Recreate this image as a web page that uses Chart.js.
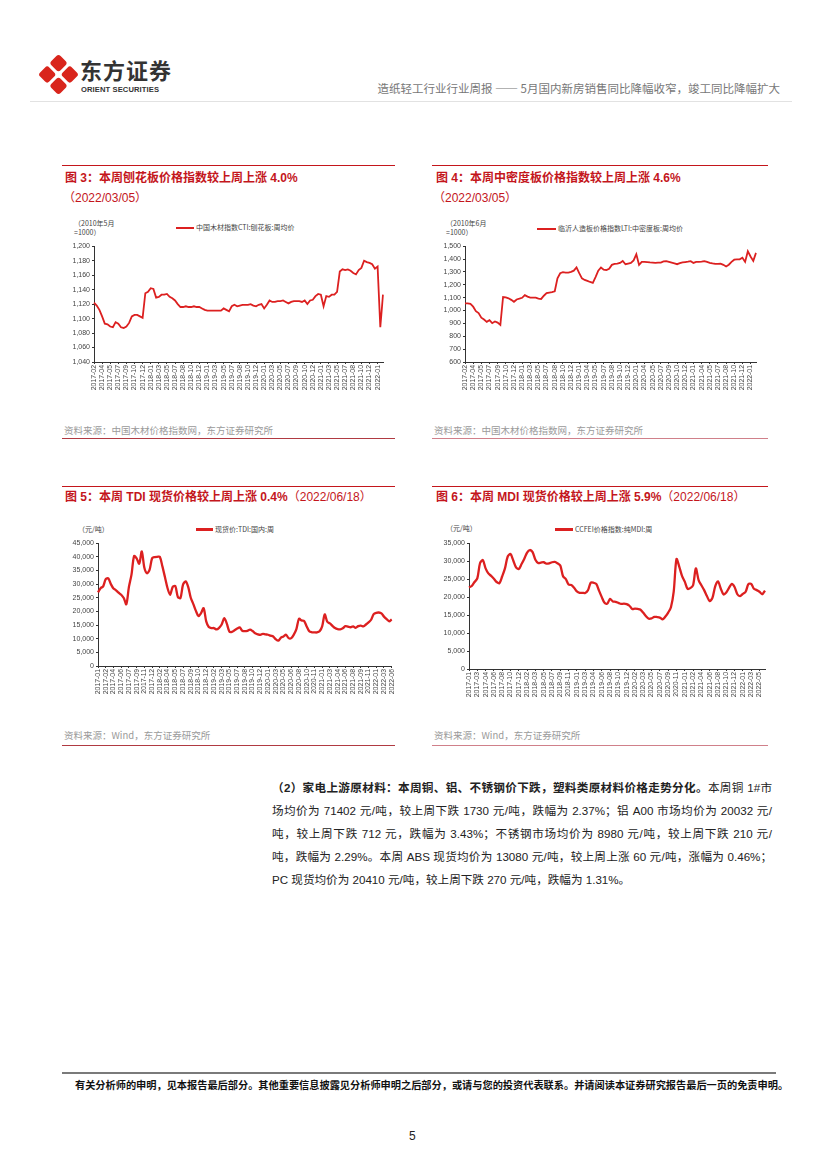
<!DOCTYPE html>
<html lang="zh-CN">
<head>
<meta charset="UTF-8">
<title>造纸轻工行业行业周报</title>
<script src="https://cdn.jsdelivr.net/npm/chart.js"></script>
<style>
  body { margin: 0; background: #fff; font-family: "Liberation Sans", Arial, "Noto Sans CJK SC", sans-serif; }
  .page { position: relative; width: 827px; height: 1169px; overflow: hidden; background: #fff; }
  .abs { position: absolute; white-space: nowrap; }
  .logo { position: absolute; left: 44px; top: 60px; width: 29px; height: 29px; transform: rotate(45deg); }
  .logo i { position: absolute; width: 13px; height: 13px; background: #d9251c; border-radius: 3px; }
  .brand { left: 80px; top: 57px; font-size: 22px; line-height: 24px; font-weight: bold; color: #333; letter-spacing: 1px; font-family: "Noto Sans CJK SC", sans-serif; }
  .brand-en { left: 81px; top: 85px; font-size: 7.6px; line-height: 9px; font-weight: bold; color: #333; letter-spacing: 0.1px; }
  .head-right { right: 47px; top: 80px; font-size: 11.5px; color: #777; font-family: "Noto Sans CJK SC", sans-serif; }
  .hline { position: absolute; height: 1px; }
  .title { font-size: 12px; font-weight: bold; color: #c4161c; line-height: 14px; font-family: "Liberation Sans", "Noto Sans CJK SC", sans-serif; }
  .ylab { font-size: 7px; line-height: 9px; color: #444; font-family: "Noto Sans CJK SC", sans-serif; }
  .legend { font-size: 7px; line-height: 9px; color: #444; display: flex; align-items: center; font-family: "Noto Sans CJK SC", sans-serif; }
  .legend b { display: inline-block; height: 2px; background: #dc2020; margin-right: 2px; }
  .src { font-size: 9.5px; color: #9a9a9a; line-height: 12px; font-family: "Noto Sans CJK SC", sans-serif; }
  canvas { position: absolute; }
  .para { position: absolute; left: 272px; top: 776px; width: 500px; font-size: 11.6px; color: #222; line-height: 23px; font-family: "Liberation Sans", "Noto Sans CJK SC", sans-serif; }
  .para div { text-align: justify; text-align-last: justify; height: 23px; }
  .para div.last { text-align-last: left; }
  .foot { left: 75px; top: 1077px; width: 695px; font-size: 10.2px; font-weight: bold; color: #111; text-align: justify; text-align-last: justify; font-family: "Noto Sans CJK SC", sans-serif; }
</style>
</head>
<body>
<div class="page">
  <div class="logo"><i style="left:0;top:0"></i><i style="left:16px;top:0"></i><i style="left:0;top:16px"></i><i style="left:16px;top:16px"></i></div>
  <div class="abs brand">东方证券</div>
  <div class="abs brand-en">ORIENT SECURITIES</div>
  <div class="abs head-right">造纸轻工行业行业周报 —— 5月国内新房销售同比降幅收窄，竣工同比降幅扩大</div>
  <div class="hline" style="left:30px;top:101px;width:762px;background:#e2e2e2;"></div>

  <!-- 图3 -->
  <div class="hline" style="left:62px;top:165px;width:333px;background:#c4161c;"></div>
  <div class="abs title" style="left:65px;top:171px;">图 3：本周刨花板价格指数较上周上涨 4.0%</div>
  <div class="abs title" style="left:63px;top:191px;font-weight:normal;">（2022/03/05）</div>
  <div class="abs ylab" style="left:74px;top:219px;">（2010年5月<br>=1000）</div>
  <div class="abs legend" style="left:176px;top:223px;"><b style="width:18px"></b>中国木材指数CTI:刨花板:周均价</div>
  <canvas id="c3" width="331" height="160" style="left:58px;top:240px;"></canvas>
  <div class="abs src" style="left:64px;top:424px;">资料来源：中国木材价格指数网，东方证券研究所</div>
  <div class="hline" style="left:62px;top:438px;width:333px;background:#b03a42;"></div>

  <!-- 图4 -->
  <div class="hline" style="left:432px;top:165px;width:336px;background:#c4161c;"></div>
  <div class="abs title" style="left:436px;top:171px;">图 4：本周中密度板价格指数较上周上涨 4.6%</div>
  <div class="abs title" style="left:433px;top:191px;font-weight:normal;">（2022/03/05）</div>
  <div class="abs ylab" style="left:446px;top:219px;">（2010年6月<br>=1000）</div>
  <div class="abs legend" style="left:537px;top:224px;"><b style="width:19px"></b>临沂人造板价格指数LTI:中密度板:周均价</div>
  <canvas id="c4" width="333" height="160" style="left:429px;top:240px;"></canvas>
  <div class="abs src" style="left:434px;top:424px;">资料来源：中国木材价格指数网，东方证券研究所</div>
  <div class="hline" style="left:432px;top:438px;width:336px;background:#d0808a;"></div>

  <!-- 图5 -->
  <div class="hline" style="left:62px;top:486px;width:333px;background:#c4161c;"></div>
  <div class="abs title" style="left:65px;top:490px;">图 5：本周 TDI 现货价格较上周上涨 0.4%<span style="font-weight:normal">（2022/06/18）</span></div>
  <div class="abs ylab" style="left:78px;top:525px;">（元/吨）</div>
  <div class="abs legend" style="left:196px;top:525px;"><b style="width:17px;height:2.5px"></b>现货价:TDI:国内:周</div>
  <canvas id="c5" width="341" height="167" style="left:60px;top:537px;"></canvas>
  <div class="abs src" style="left:64px;top:729px;">资料来源：Wind，东方证券研究所</div>
  <div class="hline" style="left:62px;top:745px;width:333px;background:#b03a42;"></div>

  <!-- 图6 -->
  <div class="hline" style="left:432px;top:486px;width:336px;background:#c4161c;"></div>
  <div class="abs title" style="left:436px;top:490px;">图 6：本周 MDI 现货价格较上周上涨 5.9%<span style="font-weight:normal">（2022/06/18）</span></div>
  <div class="abs ylab" style="left:446px;top:524px;">（元/吨）</div>
  <div class="abs legend" style="left:555px;top:525px;"><b style="width:18px;height:2.5px"></b>CCFEI价格指数:纯MDI:周</div>
  <canvas id="c6" width="340" height="170" style="left:431px;top:537px;"></canvas>
  <div class="abs src" style="left:434px;top:729px;">资料来源：Wind，东方证券研究所</div>
  <div class="hline" style="left:432px;top:745px;width:336px;background:#d0808a;"></div>

  <div class="para">
    <div><b>（2）家电上游原材料：本周铜、铝、不锈钢价下跌，塑料类原材料价格走势分化。</b>本周铜 1#市</div>
    <div>场均价为 71402 元/吨，较上周下跌 1730 元/吨，跌幅为 2.37%；铝 A00 市场均价为 20032 元/</div>
    <div>吨，较上周下跌 712 元，跌幅为 3.43%；不锈钢市场均价为 8980 元/吨，较上周下跌 210 元/</div>
    <div>吨，跌幅为 2.29%。本周 ABS 现货均价为 13080 元/吨，较上周上涨 60 元/吨，涨幅为 0.46%；</div>
    <div class="last">PC 现货均价为 20410 元/吨，较上周下跌 270 元/吨，跌幅为 1.31%。</div>
  </div>

  <div class="hline" style="left:62px;top:1072px;width:714px;height:2px;background:#7a7a7a;"></div>
  <div class="abs foot">有关分析师的申明，见本报告最后部分。其他重要信息披露见分析师申明之后部分，或请与您的投资代表联系。并请阅读本证券研究报告最后一页的免责申明。</div>
  <div class="abs" style="left:409px;top:1129px;font-size:12px;color:#222;">5</div>
</div>

<script>
// 图3 刨花板价格指数 (周)
const chipTicks = ['2017-02','2017-04','2017-05','2017-07','2017-09','2017-10','2017-12','2018-01','2018-03','2018-05',
  '2018-07','2018-08','2018-10','2018-12','2019-01','2019-03','2019-05','2019-07','2019-08','2019-10',
  '2019-12','2020-01','2020-03','2020-05','2020-07','2020-09','2020-10','2020-12','2021-01','2021-03',
  '2021-05','2021-07','2021-08','2021-10','2021-12','2022-01'];
const chipValues = [1122,1118,1112,1103,1093,1092,1089,1088,1095,1093,1088,1087,1089,1094,1103,1105,1105,1103,1101,1135,
  1137,1142,1141,1129,1130,1133,1133,1134,1130,1128,1125,1120,1116,1116,1117,1116,1116,1117,1116,1116,
  1114,1112,1111,1111,1111,1111,1111,1111,1114,1112,1110,1117,1119,1117,1118,1119,1119,1119,1120,1118,
  1117,1119,1120,1114,1119,1125,1123,1123,1124,1124,1125,1123,1121,1123,1124,1124,1124,1123,1125,1120,
  1125,1126,1131,1134,1133,1117,1131,1130,1133,1133,1137,1165,1168,1167,1168,1166,1163,1161,1167,1170,
  1180,1178,1177,1175,1169,1172,1088,1133];

// 图4 中密度板价格指数 (周)
const mdfTicks = ['2017-02','2017-04','2017-05','2017-07','2017-09','2017-10','2017-12','2018-01','2018-03','2018-05',
  '2018-07','2018-08','2018-10','2018-12','2019-01','2019-04','2019-05','2019-07','2019-08','2019-10',
  '2019-12','2020-01','2020-04','2020-05','2020-07','2020-09','2020-10','2020-12','2021-01','2021-04',
  '2021-05','2021-07','2021-08','2021-10','2021-12','2022-01'];
const mdfValues = [1055,1055,1052,1030,995,980,945,930,912,925,902,915,906,888,1105,1102,1095,1083,1068,1086,
  1092,1099,1120,1108,1100,1100,1100,1092,1090,1115,1135,1140,1143,1150,1250,1290,1298,1294,1295,1300,
  1310,1335,1290,1250,1238,1230,1222,1215,1260,1310,1335,1318,1314,1325,1355,1362,1365,1370,1385,1360,
  1365,1370,1390,1438,1355,1378,1378,1377,1374,1373,1371,1372,1373,1382,1384,1378,1372,1366,1360,1368,
  1374,1377,1380,1384,1370,1378,1378,1380,1384,1378,1371,1366,1362,1362,1364,1355,1342,1356,1378,1395,
  1397,1398,1410,1378,1460,1420,1386,1448];

// 图5 TDI 现货价 (元/吨)
const tdiTicks = ['2017-01','2017-02','2017-04','2017-06','2017-07','2017-09','2017-11','2017-12','2018-02','2018-04',
  '2018-05','2018-07','2018-09','2018-10','2018-12','2019-02','2019-03','2019-05','2019-07','2019-08',
  '2019-10','2019-12','2020-01','2020-03','2020-05','2020-06','2020-08','2020-10','2020-11','2021-01',
  '2021-03','2021-04','2021-06','2021-08','2021-09','2021-11','2022-01','2022-03','2022-06'];
const tdiValues = [26950,28500,29200,31800,32100,30000,28400,27750,26850,26100,24900,22600,29000,33500,40300,39400,37500,42000,36000,34000,
  35200,39500,39900,40000,40000,36500,32500,28500,26100,29000,29300,25300,24900,29800,31000,29000,25000,22700,20200,18300,
  19400,21200,16350,14300,13900,13900,13400,14000,15200,17500,15500,12600,12500,13100,13700,14150,12900,12750,12900,13300,
  12800,12000,11600,11400,11800,11600,11450,11100,10800,9800,9300,10400,10850,11450,10200,10200,11500,13500,17300,16700,
  16500,14500,12700,12350,12300,12300,12700,14500,18900,16200,15600,14700,13900,13500,13400,13800,14600,14400,14200,14500,
  14000,14600,14800,14500,15200,16000,16950,19000,19500,19600,19300,18100,17200,16400,17100];

// 图6 纯MDI 价格 (元/吨)
const mdiTicks = ['2017-01','2017-03','2017-04','2017-06','2017-08','2017-10','2017-12','2018-02','2018-03','2018-05',
  '2018-07','2018-09','2018-11','2019-01','2019-03','2019-04','2019-06','2019-08','2019-10','2019-12',
  '2020-02','2020-03','2020-05','2020-07','2020-09','2020-11','2021-01','2021-02','2021-04','2021-06',
  '2021-08','2021-10','2021-12','2022-01','2022-03','2022-05'];
const mdiValues = [22700,23100,24200,25200,29500,30300,28000,26600,25900,25100,24200,23900,25800,28000,31300,32000,30200,28300,27800,29200,
  30700,32400,33100,32500,30400,29500,29600,29700,29300,29400,29700,29800,29400,28800,25800,25000,23500,23350,22600,21600,
  21200,21200,21150,21900,24000,24000,23700,21800,20000,18400,18200,19500,18800,18700,18400,18100,18200,18050,17600,16700,
  16800,16700,16500,15650,14700,14000,14100,14500,14450,14300,13800,14600,15700,17200,21500,30600,28500,25900,24300,22300,
  22500,23300,28000,24750,23300,21950,20300,18900,19800,23000,24400,22400,20750,21300,22600,23650,22800,20800,20300,20900,
  21500,23600,23700,22300,21950,21500,20800,21800];

const RED = '#dc2020';
Chart.defaults.font.family = '"Liberation Sans", Arial, sans-serif';
Chart.defaults.color = '#444';

// every 3rd point carries a tick label, the rest stay blank
function pointLabels(values, ticks) {
  return values.map((v, i) => (i % 3 === 0 && ticks[i / 3]) ? ticks[i / 3] : '');
}

function makeChart(id, values, ticks, cfg) {
  const ctx = document.getElementById(id).getContext('2d');
  return new Chart(ctx, {
    type: 'line',
    data: {
      labels: pointLabels(values, ticks),
      datasets: [{
        data: values,
        borderColor: RED,
        backgroundColor: RED,
        borderWidth: cfg.lineWidth,
        pointRadius: 0,
        tension: cfg.tension,
        fill: false
      }]
    },
    options: {
      responsive: false,
      animation: false,
      events: [],
      layout: { padding: { top: 6, right: 6, left: 0, bottom: 0 } },
      plugins: { legend: { display: false }, tooltip: { enabled: false } },
      scales: {
        x: {
          afterFit: s => { s.height = cfg.xHeight; },
          border: { display: true, color: '#333', width: 1 },
          grid: { display: true, drawOnChartArea: false, tickLength: 2, color: '#333' },
          ticks: {
            autoSkip: false, maxRotation: 90, minRotation: 90, padding: 1,
            font: { size: 6.9 }, color: '#444',
            callback: function (val) {
              const l = this.getLabelForValue(val);
              return l === '' ? null : l;
            }
          }
        },
        y: {
          min: cfg.min, max: cfg.max,
          afterFit: s => { s.width = cfg.yWidth; },
          border: { display: true, color: '#333', width: 1 },
          grid: { display: true, drawOnChartArea: false, tickLength: 2, color: '#333' },
          ticks: {
            stepSize: cfg.step, padding: 2,
            font: { size: 7 }, color: '#444',
            callback: v => v.toLocaleString('en-US')
          }
        }
      }
    }
  });
}

makeChart('c3', chipValues, chipTicks, { min: 1040, max: 1200, step: 20, yWidth: 36, xHeight: 38, lineWidth: 1.8, tension: 0 });
makeChart('c4', mdfValues, mdfTicks, { min: 600, max: 1500, step: 100, yWidth: 36, xHeight: 38, lineWidth: 1.8, tension: 0 });
makeChart('c5', tdiValues, tdiTicks, { min: 0, max: 45000, step: 5000, yWidth: 38, xHeight: 38, lineWidth: 2.3, tension: 0.3 });
makeChart('c6', mdiValues, mdiTicks, { min: 0, max: 35000, step: 5000, yWidth: 38, xHeight: 38, lineWidth: 2.3, tension: 0.3 });
</script>
</body>
</html>
